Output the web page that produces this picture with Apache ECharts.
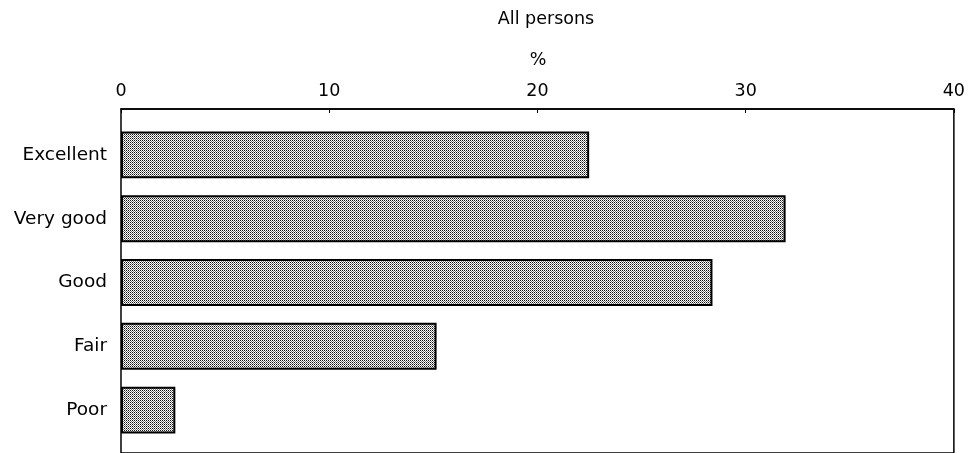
<!DOCTYPE html>
<html>
<head>
<meta charset="utf-8">
<script src="https://cdn.jsdelivr.net/npm/echarts@6/dist/echarts.min.js"></script>
<style>
html,body{margin:0;padding:0;background:#fff;}
#c{width:968px;height:453px;}
</style>
</head>
<body>
<div id="c"></div>
<script>
const categories = ['Excellent', 'Very good', 'Good', 'Fair', 'Poor'];
const values = [22.4, 31.8, 28.3, 15.1, 2.6];
const xTicks = [0, 10, 20, 30, 40];
const titleText = 'All persons';
const unitText = '%';

const FONT = 'DejaVu Sans';

// dotted fill pattern
const pc = document.createElement('canvas');
pc.width = 2; pc.height = 2;
const g = pc.getContext('2d');
g.fillStyle = '#ffffff'; g.fillRect(0, 0, 2, 2);
g.fillStyle = '#111111'; g.fillRect(0, 0, 1, 1);
g.fillStyle = '#777777'; g.fillRect(1, 1, 1, 1);

const chart = echarts.init(document.getElementById('c'), null, {renderer: 'canvas'});
chart.setOption({
  animation: false,
  backgroundColor: '#fff',
  graphic: [
    {type: 'text', x: 546, y: 19, style: {text: titleText, font: '17.5px "' + FONT + '"', fill: '#000', textAlign: 'center', textVerticalAlign: 'middle'}},
    {type: 'text', x: 538, y: 60, style: {text: unitText, font: '17.5px "' + FONT + '"', fill: '#000', textAlign: 'center', textVerticalAlign: 'middle'}}
  ],
  grid: [
    {left: 121, right: 11, top: 109, bottom: -20, show: true, borderColor: '#000', borderWidth: 1.5, backgroundColor: 'transparent'},
    {left: 121, right: 11, top: 123, bottom: 11}
  ],
  xAxis: [
    {
      gridIndex: 0, type: 'value', position: 'top', min: xTicks[0], max: xTicks[xTicks.length - 1], interval: 10,
      axisLine: {show: true, lineStyle: {color: '#000', width: 1.5}},
      axisTick: {show: true, inside: true, length: 4, lineStyle: {color: '#000'}},
      axisLabel: {color: '#000', fontFamily: FONT, fontSize: 17.5, margin: 9},
      splitLine: {show: false}
    },
    {
      gridIndex: 1, type: 'value', min: xTicks[0], max: xTicks[xTicks.length - 1], show: false,
      splitLine: {show: false}
    }
  ],
  yAxis: [
    {gridIndex: 0, type: 'category', data: categories, show: false},
    {
      gridIndex: 1, type: 'category', data: categories, inverse: true,
      axisLine: {show: false}, axisTick: {show: false},
      axisLabel: {color: '#000', fontFamily: FONT, fontSize: 18.5, margin: 14}
    }
  ],
  series: [{
    type: 'bar',
    xAxisIndex: 1, yAxisIndex: 1,
    data: values,
    barCategoryGap: '26.5%',
    itemStyle: {
      color: {image: pc, repeat: 'repeat'},
      borderColor: '#000',
      borderWidth: 2
    }
  }]
});
</script>
</body>
</html>
